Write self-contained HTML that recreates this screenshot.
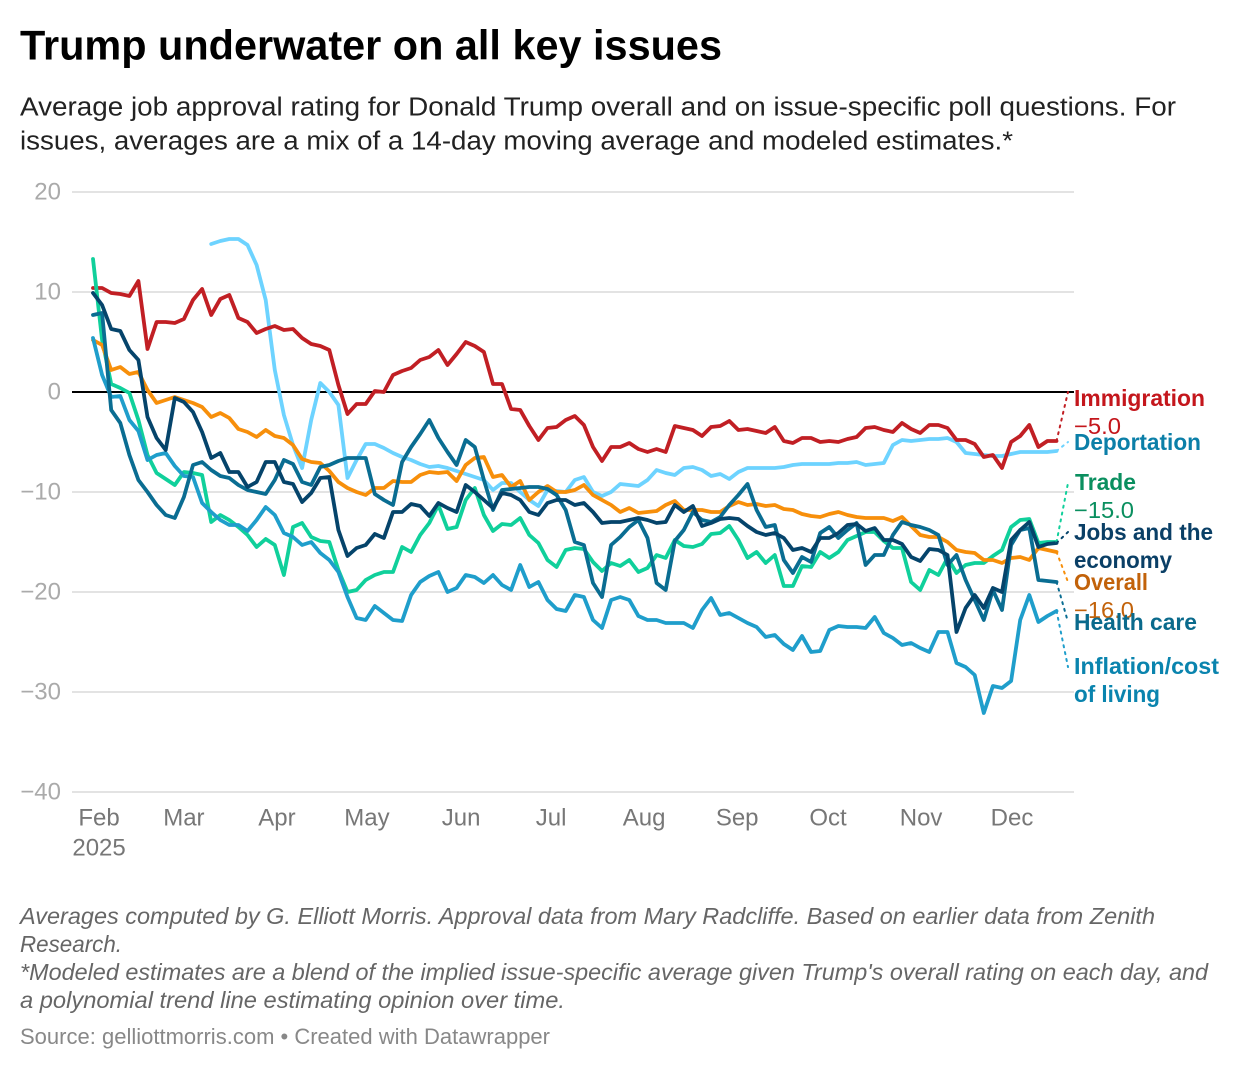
<!DOCTYPE html>
<html lang="en">
<head>
<meta charset="utf-8">
<title>Trump underwater on all key issues</title>
<style>
html,body{margin:0;padding:0;background:#fff;width:1240px;height:1070px;overflow:hidden}
svg{display:block;font-family:"Liberation Sans",sans-serif}
</style>
</head>
<body>
<svg id="chart" xmlns="http://www.w3.org/2000/svg" width="1240" height="1070" viewBox="0 0 1240 1070">
  <rect width="1240" height="1070" fill="#fff"/>
  <text x="20" y="59.5" font-size="42" font-weight="700" fill="#000" textLength="702" lengthAdjust="spacingAndGlyphs">Trump underwater on all key issues</text>
  <text x="20" y="115.5" font-size="25.5" fill="#222" textLength="1156" lengthAdjust="spacingAndGlyphs">Average job approval rating for Donald Trump overall and on issue-specific poll questions. For</text>
  <text x="20" y="149.5" font-size="25.5" fill="#222" textLength="993" lengthAdjust="spacingAndGlyphs">issues, averages are a mix of a 14-day moving average and modeled estimates.*</text>
  <g id="grid-layer"></g>
  <g id="series-layer"></g>
  <g id="connector-layer"></g>
  <g font-size="23">
    <text x="1074" y="406" font-weight="700" fill="#c4161c" textLength="131" lengthAdjust="spacingAndGlyphs">Immigration</text>
    <text x="1074" y="434" fill="#c4161c" textLength="47" lengthAdjust="spacingAndGlyphs">−5.0</text>
    <text x="1074" y="450" font-weight="700" fill="#0b7fa8" textLength="127" lengthAdjust="spacingAndGlyphs">Deportation</text>
    <text x="1075" y="490" font-weight="700" fill="#0a8f5f" textLength="61" lengthAdjust="spacingAndGlyphs">Trade</text>
    <text x="1074" y="518" fill="#0a8f5f" textLength="60" lengthAdjust="spacingAndGlyphs">−15.0</text>
    <text x="1074" y="540" font-weight="700" fill="#0a3f66" textLength="139" lengthAdjust="spacingAndGlyphs">Jobs and the</text>
    <text x="1074" y="568" font-weight="700" fill="#0a3f66" textLength="98" lengthAdjust="spacingAndGlyphs">economy</text>
    <text x="1074" y="590" font-weight="700" fill="#c2620a" textLength="74" lengthAdjust="spacingAndGlyphs">Overall</text>
    <text x="1074" y="618" fill="#c2620a" textLength="60" lengthAdjust="spacingAndGlyphs">−16.0</text>
    <text x="1074" y="630" font-weight="700" fill="#0a6a8c" textLength="123" lengthAdjust="spacingAndGlyphs">Health care</text>
    <text x="1074" y="674" font-weight="700" fill="#0a84ae" textLength="145" lengthAdjust="spacingAndGlyphs">Inflation/cost</text>
    <text x="1074" y="702" font-weight="700" fill="#0a84ae" textLength="86" lengthAdjust="spacingAndGlyphs">of living</text>
  </g>
  <g font-size="23" font-style="italic" fill="#666">
    <text x="20" y="924" textLength="1135" lengthAdjust="spacingAndGlyphs">Averages computed by G. Elliott Morris. Approval data from Mary Radcliffe. Based on earlier data from Zenith</text>
    <text x="20" y="952" textLength="102" lengthAdjust="spacingAndGlyphs">Research.</text>
    <text x="20" y="980" textLength="1188" lengthAdjust="spacingAndGlyphs">*Modeled estimates are a blend of the implied issue-specific average given Trump's overall rating on each day, and</text>
    <text x="20" y="1008" textLength="545" lengthAdjust="spacingAndGlyphs">a polynomial trend line estimating opinion over time.</text>
  </g>
  <text x="20" y="1044" font-size="22" fill="#888" textLength="530" lengthAdjust="spacingAndGlyphs">Source: gelliottmorris.com • Created with Datawrapper</text>
</svg>
<script>
const yTickValues = [20, 10, 0, -10, -20, -30, -40];
const yTickLabels = ['20', '10', '0', '−10', '−20', '−30', '−40'];
const xTickDays = [0, 28, 58.7, 88.4, 119.5, 149.2, 179.9, 210.6, 240.6, 271.3, 301.3];
const xTickLabels = ['Feb', 'Mar', 'Apr', 'May', 'Jun', 'Jul', 'Aug', 'Sep', 'Oct', 'Nov', 'Dec'];
const xTickYear = '2025';

const days = [-2,1,4,7,10,13,16,19,22,25,
  28,31,34,37,40,43,46,49,52,55,
  58,61,64,67,70,73,76,79,82,85,
  88,91,94,97,100,103,106,109,112,115,
  118,121,124,127,130,133,136,139,142,145,
  148,151,154,157,160,163,166,169,172,175,
  178,181,184,187,190,193,196,199,202,205,
  208,211,214,217,220,223,226,229,232,235,
  238,241,244,247,250,253,256,259,262,265,
  268,271,274,277,280,283,286,289,292,295,
  298,301,304,307,310,313,316];

const deportation = [null,null,null,null,null,null,null,null,null,null,
  null,null,null,14.8,15.1,15.3,15.3,14.7,12.7,9.2,
  2.2,-2.3,-5.3,-7.6,-2.8,.9,0,-1.3,-8.6,-6.8,
  -5.2,-5.2,-5.6,-6.1,-6.5,-6.8,-7.2,-7.5,-7.4,-7.6,
  -7.9,-8.2,-8.5,-8.8,-9.8,-9.1,-9.1,-10,-10.8,-11.4,
  -9.8,-9.9,-10,-8.8,-8.5,-10,-10.4,-10,-9.2,-9.3,
  -9.4,-8.8,-7.8,-8.1,-8.3,-7.6,-7.5,-7.8,-8.4,-8.2,
  -8.7,-8,-7.6,-7.6,-7.6,-7.6,-7.5,-7.3,-7.2,-7.2,
  -7.2,-7.2,-7.1,-7.1,-7,-7.3,-7.2,-7.1,-5.3,-4.8,
  -4.9,-4.8,-4.7,-4.7,-4.6,-5,-6.1,-6.2,-6.3,-6.4,
  -6.4,-6.2,-6,-6,-6,-6,-5.9];

const immigration = [10.4,10.4,9.9,9.8,9.6,11.1,4.3,7,7,6.9,
  7.3,9.2,10.3,7.7,9.3,9.7,7.4,7,5.9,6.3,
  6.6,6.2,6.3,5.4,4.8,4.6,4.2,.7,-2.2,-1.2,
  -1.2,.1,0,1.7,2.1,2.4,3.2,3.5,4.2,2.7,
  3.8,5,4.6,4,.8,.8,-1.7,-1.8,-3.4,-4.8,
  -3.6,-3.5,-2.8,-2.4,-3.3,-5.5,-6.9,-5.5,-5.5,-5.1,
  -5.7,-6,-5.7,-6,-3.4,-3.6,-3.8,-4.4,-3.5,-3.4,
  -2.9,-3.8,-3.7,-3.9,-4.1,-3.5,-4.9,-5.1,-4.6,-4.6,
  -5,-4.9,-5,-4.7,-4.5,-3.6,-3.5,-3.8,-4,-3.1,
  -3.7,-4.1,-3.3,-3.3,-3.6,-4.8,-4.8,-5.2,-6.5,-6.3,
  -7.6,-5,-4.4,-3.3,-5.5,-4.9,-4.9];

const trade = [13.3,5.2,.8,.4,-.1,-2.8,-6.3,-8.1,-8.7,-9.3,
  -8,-8.1,-8.3,-13,-12.3,-12.8,-13.5,-14.3,-15.5,-14.7,
  -15.3,-18.3,-13.5,-13.1,-14.5,-14.9,-15,-17.8,-20,-19.8,
  -18.8,-18.3,-18,-18,-15.5,-16,-14.3,-13.1,-11.3,-13.7,
  -13.5,-10.8,-9.6,-12.3,-13.9,-13.2,-13.3,-12.6,-14.3,-15.1,
  -16.8,-17.5,-15.8,-15.6,-15.7,-17,-17.9,-17.1,-17.4,-16.8,
  -18,-17.6,-16.3,-16.6,-14.8,-15.4,-15.5,-15.2,-14.2,-14.1,
  -13.4,-14.8,-16.6,-16,-17.1,-16.3,-19.4,-19.4,-17.4,-17.5,
  -16,-16.6,-16,-14.8,-14.4,-14,-14,-14.9,-15.6,-15.6,
  -19,-19.8,-17.8,-18.3,-16.6,-18.1,-17.3,-17.1,-17.1,-16.4,
  -15.8,-13.5,-12.8,-12.7,-15.1,-15,-15];

const overall = [5.2,4.7,2.2,2.5,1.8,2,.2,-1.1,-.8,-.5,
  -.8,-1.1,-1.5,-2.5,-2.1,-2.6,-3.7,-4,-4.5,-3.8,
  -4.4,-4.6,-5.3,-6.7,-7,-7.1,-7.9,-9,-9.6,-10,
  -10.3,-9.6,-9.6,-8.9,-9,-9,-8.3,-8,-8.1,-8,
  -8.9,-7.3,-6.6,-6.5,-8.5,-8.3,-9.5,-8.9,-10.8,-10,
  -9.4,-10,-10,-9.8,-9.3,-10.3,-10.8,-11.3,-12,-11.6,
  -12.1,-12,-11.9,-11.3,-10.9,-11.8,-11.8,-11.8,-12,-12,
  -11.4,-11,-11.3,-11.2,-11.4,-11.3,-11.7,-11.8,-12.2,-12.4,
  -12.5,-12.2,-12,-12.3,-12.5,-12.6,-12.6,-12.6,-12.9,-12.5,
  -13.4,-14.3,-14.5,-14.5,-15,-15.8,-16,-16.1,-16.8,-16.8,
  -17.1,-16.6,-16.5,-16.8,-15.6,-15.8,-16];

const inflation = [5.4,1.7,-.5,-.4,-2.8,-3.9,-6.8,-6.3,-6.1,-7.4,
  -8.4,-8.5,-11.1,-12,-12.8,-13.3,-13.3,-13.9,-12.8,-11.5,
  -12.3,-14.1,-14.5,-15.3,-15,-16.1,-16.8,-18,-20.5,-22.6,
  -22.8,-21.4,-22.1,-22.8,-22.9,-20.3,-19,-18.4,-18,-20,
  -19.6,-18.3,-18.5,-19.1,-18.3,-19.3,-19.8,-17.3,-19.5,-19,
  -20.8,-21.7,-21.9,-20.3,-20.5,-22.8,-23.6,-20.8,-20.5,-20.8,
  -22.4,-22.8,-22.8,-23.1,-23.1,-23.1,-23.6,-21.8,-20.6,-22.3,
  -22.1,-22.6,-23.1,-23.5,-24.5,-24.3,-25.2,-25.8,-24.4,-26,
  -25.9,-23.8,-23.4,-23.5,-23.5,-23.6,-22.5,-24.1,-24.6,-25.3,
  -25.1,-25.6,-26,-24,-24,-27.1,-27.5,-28.3,-32.1,-29.4,
  -29.6,-28.9,-22.8,-20.3,-23,-22.4,-21.9];

const healthCare = [7.7,7.9,-1.8,-3.1,-6.3,-8.8,-10,-11.3,-12.3,-12.6,
  -10.5,-7.3,-7,-7.8,-8.4,-8.6,-9.3,-9.8,-10,-10.2,
  -8.8,-6.8,-7.2,-9,-9.3,-7.5,-7.3,-6.9,-6.6,-6.6,
  -6.6,-10.2,-10.8,-11.3,-7,-5.5,-4.2,-2.8,-4.6,-6,
  -7.3,-4.8,-5.5,-8.8,-11.8,-9.8,-9.7,-9.6,-9.5,-9.5,
  -9.7,-10.3,-11.8,-15,-15.3,-19.1,-20.5,-15.3,-14.5,-13.5,
  -12.8,-14.6,-19.1,-19.8,-14.9,-13.8,-12,-12.8,-13,-12.5,
  -11.3,-10.3,-9.2,-11.8,-13.5,-13.3,-16.8,-18.1,-16.5,-17,
  -14.1,-13.5,-14.6,-13.8,-13.1,-17.3,-16.3,-16.3,-14.3,-13,
  -13.3,-13.5,-13.8,-14.3,-17.3,-16.3,-18.8,-20.8,-22.8,-19.8,
  -21.8,-15.3,-13.8,-13.6,-18.8,-18.9,-19];

const jobsEconomy = [9.9,8.7,6.3,6.1,4.2,3.2,-2.5,-4.6,-5.8,-.6,
  -1,-2,-4,-6.6,-6.1,-8,-8,-9.5,-9,-7,
  -7,-9,-9.2,-11,-10.1,-8.6,-8.5,-13.8,-16.4,-15.6,
  -15.3,-14.2,-14.6,-12,-12,-11.2,-11.4,-12.4,-11.1,-11.6,
  -12,-9.3,-10,-10.8,-11.6,-10.1,-10.3,-10.8,-12,-12.3,
  -11.1,-10.8,-10.8,-11.3,-11.1,-12,-13.1,-13,-13,-12.8,
  -12.6,-12.8,-13.1,-13,-11.3,-12,-11.4,-13.4,-13.1,-12.7,
  -12.6,-12.7,-13.4,-14,-14.3,-14.1,-14.6,-15.8,-15.6,-16,
  -14.6,-14.6,-14.1,-13.3,-13.2,-13.9,-13.6,-14.8,-14.8,-15.2,
  -16.5,-16.9,-15.7,-15.8,-16.3,-24,-21.6,-20.3,-21.6,-19.6,
  -20,-14.8,-13.8,-13,-15.5,-15.2,-15.1];

const seriesStyles = [
  {name: 'deportation', values: deportation, color: '#6dd3ff'},
  {name: 'immigration', values: immigration, color: '#c11f24'},
  {name: 'trade', values: trade, color: '#10d09b'},
  {name: 'overall', values: overall, color: '#f78f0b'},
  {name: 'inflation', values: inflation, color: '#1f9ecb'},
  {name: 'health-care', values: healthCare, color: '#0a6d92'},
  {name: 'jobs-economy', values: jobsEconomy, color: '#05446b'}
];

const connectorTargets = [
  {name: 'immigration', values: immigration, color: '#c11f24', labelValue: 0},
  {name: 'deportation', values: deportation, color: '#6dd3ff', labelValue: -5},
  {name: 'trade', values: trade, color: '#10d09b', labelValue: -9.1},
  {name: 'jobs-economy', values: jobsEconomy, color: '#05446b', labelValue: -14},
  {name: 'overall', values: overall, color: '#f78f0b', labelValue: -19},
  {name: 'health-care', values: healthCare, color: '#0a6d92', labelValue: -23},
  {name: 'inflation', values: inflation, color: '#1f9ecb', labelValue: -27.5}
];

const SVG_NS = 'http://www.w3.org/2000/svg';
const xScale = day => 93 + (day + 2) * 3.03;
const yScale = value => 392 - value * 10;
const gridLayer = document.getElementById('grid-layer');
const seriesLayer = document.getElementById('series-layer');
const connectorLayer = document.getElementById('connector-layer');

function make(tag, attrs, parent) {
  const el = document.createElementNS(SVG_NS, tag);
  Object.keys(attrs).forEach(k => el.setAttribute(k, attrs[k]));
  parent.appendChild(el);
  return el;
}

yTickValues.forEach((v, i) => {
  const line = make('line', {x1: 72, x2: 1074, y1: yScale(v), y2: yScale(v), stroke: v === 0 ? '#000' : '#e3e3e3', 'stroke-width': 2}, gridLayer);
  
  
  const label = make('text', {x: 61, y: yScale(v) + 7.5, 'text-anchor': 'end', 'font-size': 24, fill: '#aaa'}, gridLayer);
  label.textContent = yTickLabels[i];
  
  
});

xTickDays.forEach((d, i) => {
  const label = make('text', {x: xScale(d), y: 825.5, 'text-anchor': 'middle', 'font-size': 24, fill: '#777'}, gridLayer);
  label.textContent = xTickLabels[i];
  
  
});
const yearLabel = make('text', {x: xScale(xTickDays[0]), y: 855.5, 'text-anchor': 'middle', 'font-size': 24, fill: '#777'}, gridLayer);
yearLabel.textContent = xTickYear;



seriesStyles.forEach(s => {
  let d = '';
  let pen = false;
  s.values.forEach((v, i) => {
    if (v === null) { pen = false; return; }
    d += (pen ? 'L' : 'M') + xScale(days[i]).toFixed(1) + ' ' + yScale(v).toFixed(1);
    pen = true;
  });
  const path = make('path', {d: d, fill: 'none', stroke: s.color, 'stroke-width': 3.8, 'stroke-linejoin': 'round', 'stroke-linecap': 'round'}, seriesLayer);
  
  
});

connectorTargets.forEach(c => {
  const last = c.values.length - 1;
  const x0 = xScale(days[last]);
  const y0 = yScale(c.values[last]);
  const x1 = 1068;
  const y1 = yScale(c.labelValue);
  const path = make('path', {d: 'M' + x0 + ' ' + y0 + 'L' + x1 + ' ' + y1, fill: 'none', stroke: c.color, 'stroke-width': 2, 'stroke-dasharray': '2 5', 'stroke-linecap': 'round'}, connectorLayer);
  
  
});
</script>
</body>
</html>
